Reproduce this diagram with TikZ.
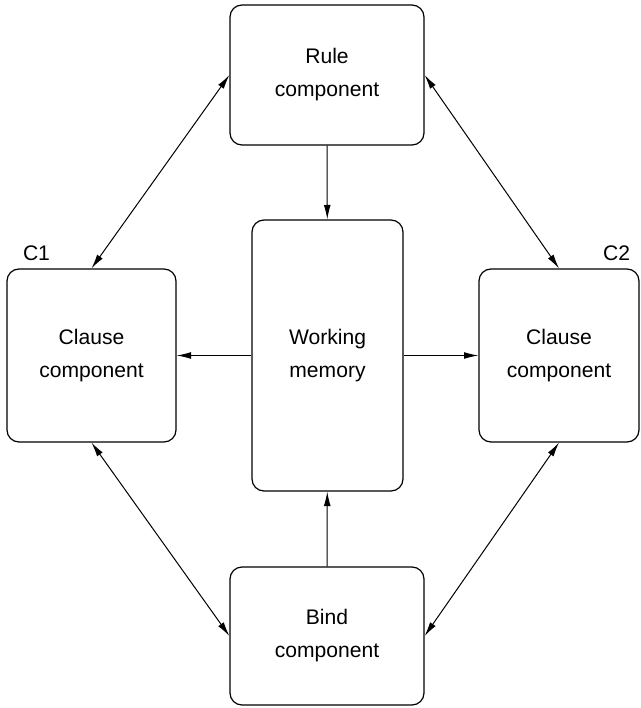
\documentclass[tikz,border=0pt]{standalone}
\usepackage{fontspec}
\setmainfont{Liberation Sans}
\usetikzlibrary{arrows.meta}

\tikzset{
  comp/.style={draw, rounded corners=3mm, line width=.3mm, align=center, inner sep=0pt},
  oneway/.style={line width=.25mm, -{Latex[length=3.6mm,width=1.7mm]}},
  twoway/.style={line width=.25mm, {Latex[length=3.6mm,width=1.7mm]}-{Latex[length=3.6mm,width=1.7mm]}},
}

\begin{document}
\begin{tikzpicture}[x=.25mm, y=-.25mm, font=\fontsize{15}{23.5}\selectfont]
      \useasboundingbox (0,0) rectangle (641,708);

      \node[comp, minimum width=48.5mm, minimum height=35mm] (rule) at (327,75) {Rule\\component};
      \node[comp, minimum width=37.75mm, minimum height=67.75mm] (wm) at (327.5,355.5) {Working\\memory};
      \node[comp, minimum width=42.25mm, minimum height=43.25mm] (cl1) at (91.5,355.5) {Clause\\component};
      \node[comp, minimum width=40mm, minimum height=43.25mm] (cl2) at (559,355.5) {Clause\\component};
      \node[comp, minimum width=48.5mm, minimum height=34.5mm] (bind) at (327,636) {Bind\\component};

      \node (c1) at (36.5,253) {C1};
      \node (c2) at (616.5,253) {C2};

      \draw[oneway] (rule) -- (wm);
      \draw[oneway] (bind) -- (wm);
      \draw[oneway] (wm) -- (cl1);
      \draw[oneway] (wm) -- (cl2);
      \draw[twoway] (cl1.north) -- (rule.west);
      \draw[twoway] (rule.east) -- (cl2.north);
      \draw[twoway] (cl1.south) -- (bind.west);
      \draw[twoway] (bind.east) -- (cl2.south);
    \end{tikzpicture}
\end{document}
